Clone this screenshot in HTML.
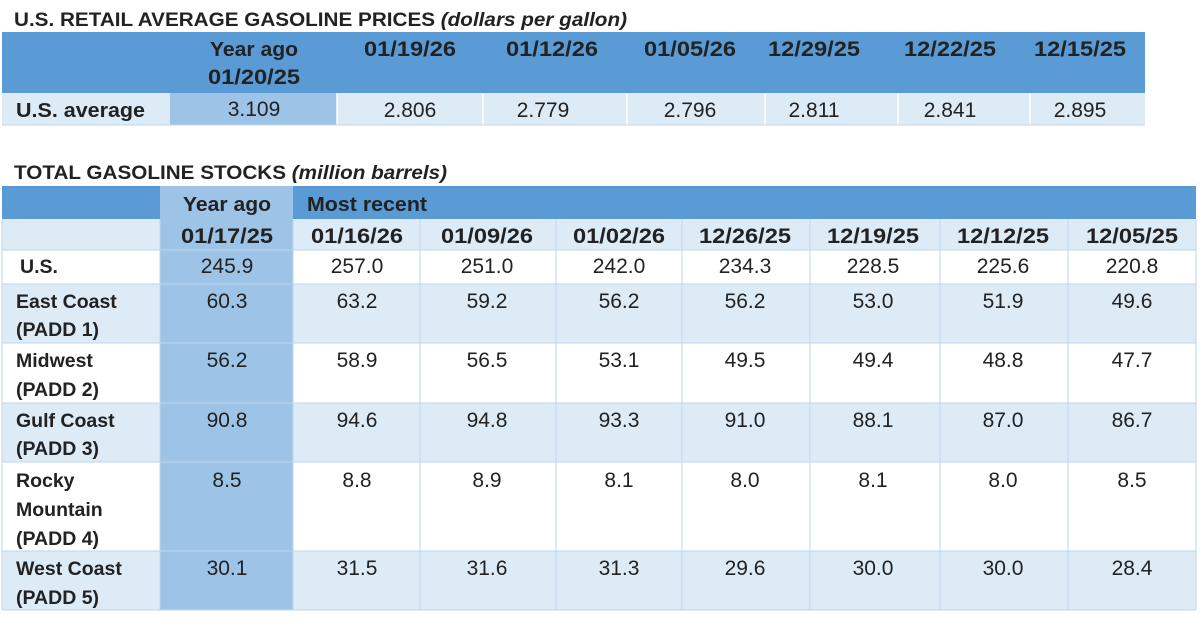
<!DOCTYPE html>
<html><head><meta charset="utf-8"><style>
html,body{margin:0;padding:0;background:#fff;}
svg text{font-family:"Liberation Sans",sans-serif;fill:#222;}
.b{font-weight:bold;}
</style></head><body>
<svg width="1200" height="615" xmlns="http://www.w3.org/2000/svg">
<text x="14" y="26" font-size="19" class="b" textLength="613" lengthAdjust="spacingAndGlyphs">U.S. RETAIL AVERAGE GASOLINE PRICES <tspan font-style="italic">(dollars per gallon)</tspan></text>
<rect x="2" y="32" width="1143" height="61" fill="#5B9BD5"/>
<rect x="2" y="93" width="1143" height="32" fill="#DDEBF7"/>
<rect x="170" y="93" width="167" height="32" fill="#9DC3E6"/>
<g stroke="#fff" stroke-width="1.5">
<line x1="337" y1="93" x2="337" y2="125"/><line x1="483" y1="93" x2="483" y2="125"/>
<line x1="627" y1="93" x2="627" y2="125"/><line x1="765" y1="93" x2="765" y2="125"/>
<line x1="898" y1="93" x2="898" y2="125"/><line x1="1030" y1="93" x2="1030" y2="125"/>
</g>
<line x1="2" y1="125" x2="1145" y2="125" stroke="#BDD7EE"/>
<g font-size="21" class="b" text-anchor="middle">
<text x="254" y="56" font-size="20" textLength="88" lengthAdjust="spacingAndGlyphs">Year ago</text>
<text x="254" y="84" textLength="92" lengthAdjust="spacingAndGlyphs">01/20/25</text>
<text x="410" y="56" textLength="92" lengthAdjust="spacingAndGlyphs">01/19/26</text><text x="552" y="56" textLength="92" lengthAdjust="spacingAndGlyphs">01/12/26</text>
<text x="690" y="56" textLength="92" lengthAdjust="spacingAndGlyphs">01/05/26</text><text x="814" y="56" textLength="92" lengthAdjust="spacingAndGlyphs">12/29/25</text>
<text x="950" y="56" textLength="92" lengthAdjust="spacingAndGlyphs">12/22/25</text><text x="1080" y="56" textLength="92" lengthAdjust="spacingAndGlyphs">12/15/25</text>
</g>
<text x="16" y="117" font-size="20" class="b" textLength="129" lengthAdjust="spacingAndGlyphs">U.S. average</text>
<g font-size="21" text-anchor="middle">
<text x="254" y="116">3.109</text><text x="410" y="117">2.806</text><text x="543" y="117">2.779</text>
<text x="690" y="117">2.796</text><text x="814" y="117">2.811</text><text x="950" y="117">2.841</text><text x="1080" y="117">2.895</text>
</g>
<text x="14" y="179" font-size="19" class="b" textLength="433" lengthAdjust="spacingAndGlyphs">TOTAL GASOLINE STOCKS <tspan font-style="italic">(million barrels)</tspan></text>
<rect x="2" y="186" width="1194" height="33" fill="#5B9BD5"/>
<rect x="2" y="219" width="1194" height="31" fill="#DDEBF7"/>
<rect x="2" y="284" width="1194" height="59" fill="#DDEBF7"/>
<rect x="2" y="403" width="1194" height="59" fill="#DDEBF7"/>
<rect x="2" y="551" width="1194" height="59" fill="#DDEBF7"/>
<rect x="160" y="186" width="133" height="424" fill="#9DC3E6"/>
<g stroke="#BDD7EE" stroke-width="1">
<line x1="420" y1="219" x2="420" y2="610"/><line x1="556" y1="219" x2="556" y2="610"/>
<line x1="682" y1="219" x2="682" y2="610"/><line x1="810" y1="219" x2="810" y2="610"/>
<line x1="940" y1="219" x2="940" y2="610"/><line x1="1068" y1="219" x2="1068" y2="610"/>
<line x1="293" y1="219" x2="293" y2="610"/><line x1="160" y1="219" x2="160" y2="610"/>
<line x1="2" y1="250" x2="1196" y2="250"/><line x1="2" y1="284" x2="1196" y2="284"/>
<line x1="2" y1="343" x2="1196" y2="343"/><line x1="2" y1="403" x2="1196" y2="403"/>
<line x1="2" y1="462" x2="1196" y2="462"/><line x1="2" y1="551" x2="1196" y2="551"/>
<line x1="2" y1="610" x2="1196" y2="610"/><line x1="1196" y1="219" x2="1196" y2="610"/>
<line x1="2" y1="219" x2="2" y2="610"/>
</g>
<g font-size="20" class="b">
<text x="227" y="211" text-anchor="middle" textLength="88" lengthAdjust="spacingAndGlyphs">Year ago</text>
<text x="307" y="211" textLength="120" lengthAdjust="spacingAndGlyphs">Most recent</text>
</g>
<g font-size="21" class="b" text-anchor="middle">
<text x="227" y="243" textLength="92" lengthAdjust="spacingAndGlyphs">01/17/25</text><text x="357" y="243" textLength="92" lengthAdjust="spacingAndGlyphs">01/16/26</text><text x="487" y="243" textLength="92" lengthAdjust="spacingAndGlyphs">01/09/26</text>
<text x="619" y="243" textLength="92" lengthAdjust="spacingAndGlyphs">01/02/26</text><text x="745" y="243" textLength="92" lengthAdjust="spacingAndGlyphs">12/26/25</text><text x="873" y="243" textLength="92" lengthAdjust="spacingAndGlyphs">12/19/25</text>
<text x="1003" y="243" textLength="92" lengthAdjust="spacingAndGlyphs">12/12/25</text><text x="1132" y="243" textLength="92" lengthAdjust="spacingAndGlyphs">12/05/25</text>
</g>
<g font-size="19.5" class="b">
<text x="20" y="273">U.S.</text>
<text x="16" y="308">East Coast</text><text x="16" y="336">(PADD 1)</text>
<text x="16" y="367">Midwest</text><text x="16" y="396">(PADD 2)</text>
<text x="16" y="427">Gulf Coast</text><text x="16" y="455">(PADD 3)</text>
<text x="16" y="487">Rocky</text><text x="16" y="516">Mountain</text><text x="16" y="545">(PADD 4)</text>
<text x="16" y="575">West Coast</text><text x="16" y="604">(PADD 5)</text>
</g>
<g font-size="21" text-anchor="middle">
<text x="227" y="273">245.9</text><text x="357" y="273">257.0</text><text x="487" y="273">251.0</text><text x="619" y="273">242.0</text><text x="745" y="273">234.3</text><text x="873" y="273">228.5</text><text x="1003" y="273">225.6</text><text x="1132" y="273">220.8</text>
<text x="227" y="308">60.3</text><text x="357" y="308">63.2</text><text x="487" y="308">59.2</text><text x="619" y="308">56.2</text><text x="745" y="308">56.2</text><text x="873" y="308">53.0</text><text x="1003" y="308">51.9</text><text x="1132" y="308">49.6</text>
<text x="227" y="367">56.2</text><text x="357" y="367">58.9</text><text x="487" y="367">56.5</text><text x="619" y="367">53.1</text><text x="745" y="367">49.5</text><text x="873" y="367">49.4</text><text x="1003" y="367">48.8</text><text x="1132" y="367">47.7</text>
<text x="227" y="427">90.8</text><text x="357" y="427">94.6</text><text x="487" y="427">94.8</text><text x="619" y="427">93.3</text><text x="745" y="427">91.0</text><text x="873" y="427">88.1</text><text x="1003" y="427">87.0</text><text x="1132" y="427">86.7</text>
<text x="227" y="487">8.5</text><text x="357" y="487">8.8</text><text x="487" y="487">8.9</text><text x="619" y="487">8.1</text><text x="745" y="487">8.0</text><text x="873" y="487">8.1</text><text x="1003" y="487">8.0</text><text x="1132" y="487">8.5</text>
<text x="227" y="575">30.1</text><text x="357" y="575">31.5</text><text x="487" y="575">31.6</text><text x="619" y="575">31.3</text><text x="745" y="575">29.6</text><text x="873" y="575">30.0</text><text x="1003" y="575">30.0</text><text x="1132" y="575">28.4</text>
</g>
</svg>
</body></html>
